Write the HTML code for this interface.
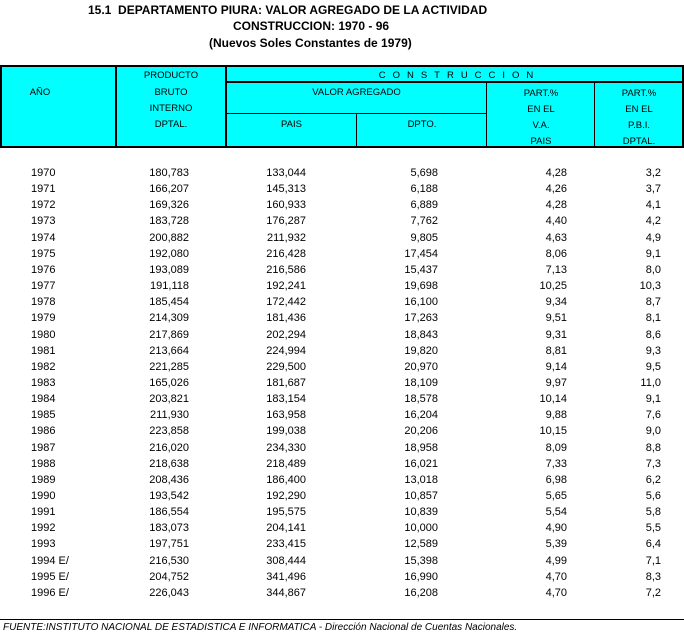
<!DOCTYPE html>
<html><head><meta charset="utf-8"><style>
body{margin:0;width:684px;height:634px;background:#fff;font-family:"Liberation Sans",Arial,sans-serif;position:relative;overflow:hidden;color:#000}
.t{position:absolute;white-space:nowrap;font-size:11px;line-height:12px}
.b{font-weight:bold;font-size:12px}
.h{position:absolute;background:#00ffff}
.ln{position:absolute;background:#000}
.c{text-align:center;font-size:9.5px}
.r{text-align:right}
</style></head><body>
<div class="t b" style="top:4px;left:88px">15.1&nbsp; DEPARTAMENTO PIURA: VALOR AGREGADO DE LA ACTIVIDAD</div>
<div class="t b" style="top:20px;left:233px">CONSTRUCCION: 1970 - 96</div>
<div class="t b" style="top:37px;left:209px">(Nuevos Soles Constantes de 1979)</div>

<div class="h" style="left:0;top:66px;width:684px;height:81px"></div>
<div class="ln" style="left:0;top:65px;width:684px;height:2px"></div>
<div class="ln" style="left:0;top:146px;width:684px;height:2px"></div>
<div class="ln" style="left:0;top:65px;width:2px;height:83px"></div>
<div class="ln" style="left:682px;top:65px;width:2px;height:83px"></div>
<div class="ln" style="left:115px;top:65px;width:2px;height:83px"></div>
<div class="ln" style="left:225px;top:65px;width:2px;height:83px"></div>
<div class="ln" style="left:226px;top:81px;width:458px;height:2px"></div>
<div class="ln" style="left:226px;top:113px;width:261px;height:1px"></div>
<div class="ln" style="left:356px;top:114px;width:1px;height:33px"></div>
<div class="ln" style="left:486px;top:82px;width:1px;height:65px"></div>
<div class="ln" style="left:594px;top:82px;width:1px;height:65px"></div>

<div class="t c" style="left:2px;width:76px;top:87px">AÑO</div>
<div class="t c" style="left:116px;width:110px;top:70px">PRODUCTO</div>
<div class="t c" style="left:116px;width:110px;top:87px">BRUTO</div>
<div class="t c" style="left:116px;width:110px;top:103px">INTERNO</div>
<div class="t c" style="left:116px;width:110px;top:119px">DPTAL.</div>
<div class="t c" style="left:226px;width:458px;top:70px;letter-spacing:7px;padding-left:9px;box-sizing:border-box;">CONSTRUCCION</div>
<div class="t c" style="left:226px;width:261px;top:87px">VALOR AGREGADO</div>
<div class="t c" style="left:226px;width:131px;top:119px">PAIS</div>
<div class="t c" style="left:357px;width:130px;top:119px">DPTO.</div>
<div class="t c" style="left:487px;width:108px;top:86px;line-height:16px">PART.%<br>EN EL<br>V.A.<br>PAIS</div>
<div class="t c" style="left:595px;width:88px;top:86px;line-height:16px">PART.%<br>EN EL<br>P.B.I.<br>DPTAL.</div>

<div id="rows"></div>
<div class="ln" style="left:0;top:619px;width:684px;height:1px"></div>
<div class="t" style="left:3px;top:622px;font-style:italic;font-size:10px">FUENTE:INSTITUTO NACIONAL DE ESTADISTICA E INFORMATICA - Dirección Nacional de Cuentas Nacionales.</div>
<script>
var d=[["1970","180,783","133,044","5,698","4,28","3,2"],["1971","166,207","145,313","6,188","4,26","3,7"],["1972","169,326","160,933","6,889","4,28","4,1"],["1973","183,728","176,287","7,762","4,40","4,2"],["1974","200,882","211,932","9,805","4,63","4,9"],["1975","192,080","216,428","17,454","8,06","9,1"],["1976","193,089","216,586","15,437","7,13","8,0"],["1977","191,118","192,241","19,698","10,25","10,3"],["1978","185,454","172,442","16,100","9,34","8,7"],["1979","214,309","181,436","17,263","9,51","8,1"],["1980","217,869","202,294","18,843","9,31","8,6"],["1981","213,664","224,994","19,820","8,81","9,3"],["1982","221,285","229,500","20,970","9,14","9,5"],["1983","165,026","181,687","18,109","9,97","11,0"],["1984","203,821","183,154","18,578","10,14","9,1"],["1985","211,930","163,958","16,204","9,88","7,6"],["1986","223,858","199,038","20,206","10,15","9,0"],["1987","216,020","234,330","18,958","8,09","8,8"],["1988","218,638","218,489","16,021","7,33","7,3"],["1989","208,436","186,400","13,018","6,98","6,2"],["1990","193,542","192,290","10,857","5,65","5,6"],["1991","186,554","195,575","10,839","5,54","5,8"],["1992","183,073","204,141","10,000","4,90","5,5"],["1993","197,751","233,415","12,589","5,39","6,4"],["1994 E/","216,530","308,444","15,398","4,99","7,1"],["1995 E/","204,752","341,496","16,990","4,70","8,3"],["1996 E/","226,043","344,867","16,208","4,70","7,2"]];
var rx=[189,306,438,567,661],h="";
d.forEach(function(r,i){var y=167+i*16.15;
h+='<div class="t" style="left:31px;top:'+y+'px">'+r[0]+'</div>';
for(var j=1;j<6;j++)h+='<div class="t r" style="right:'+(684-rx[j-1])+'px;top:'+y+'px">'+r[j]+'</div>';});
document.getElementById("rows").innerHTML=h;
</script>
</body></html>
